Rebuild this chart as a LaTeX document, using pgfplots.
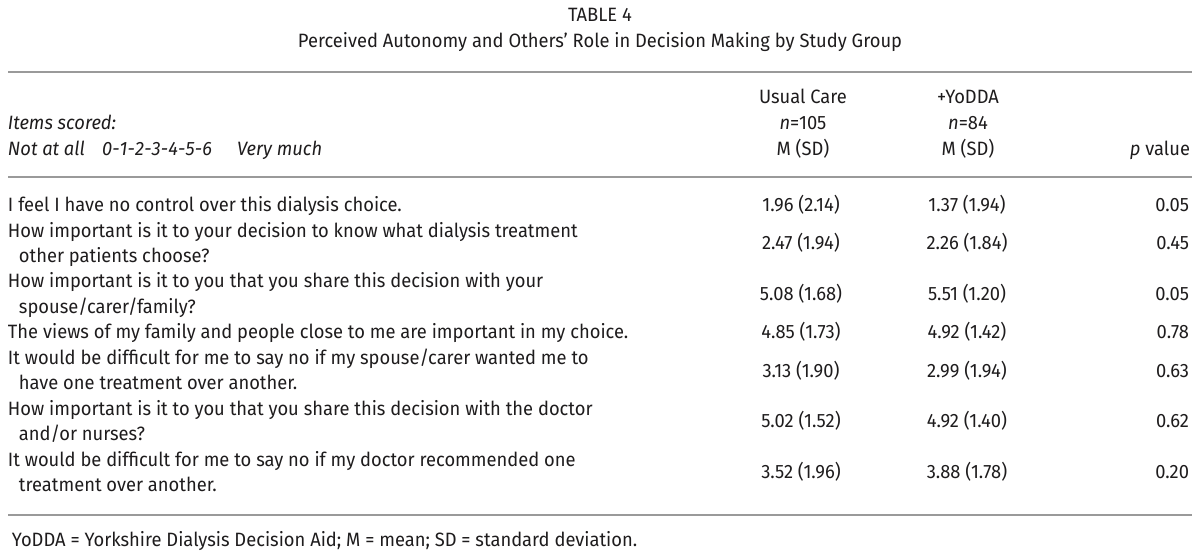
\documentclass[border=0pt]{standalone}
\usepackage{fontspec}
\setmainfont{Fira Sans}[FakeStretch=0.95]
\usepackage{pgfplots}
\pgfplotsset{compat=1.18}
\usepackage{pgfplotstable}
\definecolor{txt}{HTML}{1E1C1D}
\definecolor{rulec}{HTML}{9A9A9A}

\pgfplotstableread[col sep=comma]{
y,uc,yo,p
205.0,1.96 (2.14),1.37 (1.94),0.05
243.2,2.47 (1.94),2.26 (1.84),0.45
294.1,5.08 (1.68),5.51 (1.20),0.05
332.3,4.85 (1.73),4.92 (1.42),0.78
370.5,3.13 (1.90),2.99 (1.94),0.63
421.4,5.02 (1.52),4.92 (1.40),0.62
472.3,3.52 (1.96),3.88 (1.78),0.20
}\datatab

\newcommand{\fillsp}{\hskip 0pt plus 1fil\relax}

\begin{document}
\begin{tikzpicture}[font=\fontsize{19.3}{23}\selectfont, text=txt, every node/.style={inner sep=0pt, outer sep=0pt}]
\begin{axis}[scale only axis, width=1200pt, height=559pt,
  xmin=0, xmax=1200, ymin=0, ymax=559, y dir=reverse,
  hide axis, clip=false,
  every node near coord/.append style={anchor=base, inner sep=0pt, text=txt}]
\path (axis cs:0,0) rectangle (axis cs:1200,559);
% title
\node[anchor=base] at (axis cs:600,21.5) {TABLE 4};
\node[anchor=base] at (axis cs:600,47.5) {Perceived Autonomy and Others’ Role in Decision Making by Study Group};
% rules
\draw[rulec, line width=1.5pt] (axis cs:8,72) -- (axis cs:1192,72);
\draw[rulec, line width=1.5pt] (axis cs:8,177) -- (axis cs:1192,177);
\draw[rulec, line width=1.5pt] (axis cs:8,515) -- (axis cs:1192,515);
% header
\node[anchor=base west] at (axis cs:8,130) {\itshape Items scored:};
\node[anchor=base west] at (axis cs:8,156) {\itshape Not at all};
\node[anchor=base west, font=\fontsize{19.3}{23}\selectfont\itshape] at (axis cs:102,156) {\hbox to 110pt{0\fillsp-\fillsp1\fillsp-\fillsp2\fillsp-\fillsp3\fillsp-\fillsp4\fillsp-\fillsp5\fillsp-\fillsp6}};
\node[anchor=base west] at (axis cs:237,156) {\itshape Very much};
\node[anchor=base] at (axis cs:803,104) {Usual Care};
\node[anchor=base] at (axis cs:803,130) {\itshape n\upshape=105};
\node[anchor=base] at (axis cs:803,156) {M (SD)};
\node[anchor=base] at (axis cs:968,104) {+YoDDA};
\node[anchor=base] at (axis cs:968,130) {\itshape n\upshape=84};
\node[anchor=base] at (axis cs:968,156) {M (SD)};
\node[anchor=base east] at (axis cs:1190,156) {\itshape p\upshape{} value};
% body text
\node[anchor=base west] at (axis cs:8,211.5) {I feel I have no control over this dialysis choice.};
\node[anchor=base west] at (axis cs:8,237.0) {How important is it to your decision to know what dialysis treatment};
\node[anchor=base west] at (axis cs:19,262.4) {other patients choose?};
\node[anchor=base west] at (axis cs:8,287.9) {How important is it to you that you share this decision with your};
\node[anchor=base west] at (axis cs:19,313.3) {spouse/carer/family?};
\node[anchor=base west] at (axis cs:8,338.8) {The views of my family and people close to me are important in my choice.};
\node[anchor=base west] at (axis cs:8,364.2) {It would be difficult for me to say no if my spouse/carer wanted me to};
\node[anchor=base west] at (axis cs:19,389.7) {have one treatment over another.};
\node[anchor=base west] at (axis cs:8,415.1) {How important is it to you that you share this decision with the doctor};
\node[anchor=base west] at (axis cs:19,440.6) {and/or nurses?};
\node[anchor=base west] at (axis cs:8,466.0) {It would be difficult for me to say no if my doctor recommended one};
\node[anchor=base west] at (axis cs:19,491.5) {treatment over another.};
% values
\addplot[draw=none, mark=none, nodes near coords, point meta=explicit symbolic]
  table[x expr=801, y expr=\thisrow{y}+6.5, meta=uc] {\datatab};
\addplot[draw=none, mark=none, nodes near coords, point meta=explicit symbolic]
  table[x expr=967, y expr=\thisrow{y}+6.5, meta=yo] {\datatab};
\addplot[draw=none, mark=none, nodes near coords, point meta=explicit symbolic,
  every node near coord/.append style={anchor=base east}]
  table[x expr=1189, y expr=\thisrow{y}+6.5, meta=p] {\datatab};
% footnote
\node[anchor=base west] at (axis cs:12,546) {YoDDA = Yorkshire Dialysis Decision Aid; M = mean; SD = standard deviation.};
\end{axis}
\end{tikzpicture}
\end{document}
